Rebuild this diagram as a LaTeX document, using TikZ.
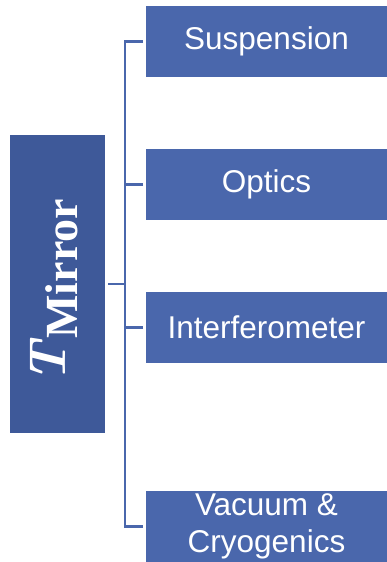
\documentclass[tikz,border=0pt]{standalone}
\usepackage{fontspec}
\setsansfont{Liberation Sans}
\newfontfamily\labelfont{Liberation Serif}
\usepackage{tikz}
\usepackage{xcolor}
\usetikzlibrary{
    arrows,
    arrows.meta,
    shapes,
    positioning,
    calc
}
\definecolor{boxblue}{RGB}{74,103,172}
\definecolor{mainblue}{RGB}{62,89,153}
\tikzset{
    topic/.style = {fill = boxblue, text = white, minimum width = 241, minimum height = 71,
        inner sep = 0, outer sep = 0, align = center,
        font = \sffamily\fontsize{31.5}{37}\selectfont},
    mainbox/.style = {fill = mainblue, text = white, minimum width = 95, minimum height = 298,
        inner sep = 0, outer sep = 0},
    link/.style = {draw = boxblue, line width = 2.2pt}
}

\begin{document}
\begin{tikzpicture}[x = 1pt, y = -1pt]
                \useasboundingbox (0, 0) rectangle (387, 562);
                \node [mainbox] (mirror) at (57.5, 284) {};
                \node [rotate = 90, text = white, inner sep = 0, anchor = base west] (label) at (65, 384)
                    {{\fontsize{52}{60}\selectfont\textbf{\textit{T}}}%
                     \raisebox{-12pt}{\labelfont\fontsize{46}{50}\selectfont\textbf{Mirror}}};
                \coordinate (trunk) at (125, 284);
                \node [topic] (suspension) at (266.5, 41.5) {Suspension};
                \node [topic] (optics) at (266.5, 184.5) {Optics};
                \node [topic] (interf) at (266.5, 327.5) {Interferometer};
                \node [topic] (vacuum) at (266.5, 526.5) {Vacuum \&\\Cryogenics};
                \draw [link] ([xshift = 3]mirror.east) -- (trunk);
                \foreach \b in {suspension, optics, interf, vacuum}{
                    \draw [link] ([xshift = -3]\b.west) -| (trunk);
                }
            \end{tikzpicture}
\end{document}
